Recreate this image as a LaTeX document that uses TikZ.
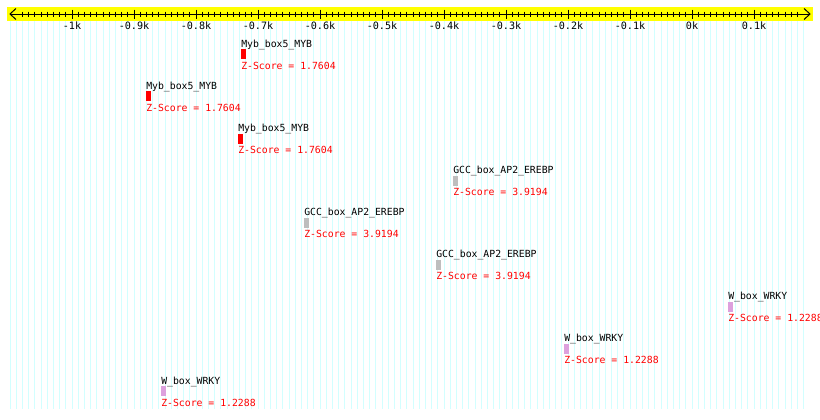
\documentclass[tikz,border=0pt]{standalone}
\usepackage{fontspec}
\setmonofont{DejaVu Sans Mono}
\definecolor{gridc}{RGB}{210,255,255}
\definecolor{boxgray}{RGB}{190,190,190}
\definecolor{boxplum}{RGB}{221,160,221}
\definecolor{rulery}{RGB}{255,255,0}
\newcommand{\motif}[6]{%
  \pgfmathsetmacro\rowy{49+42.125*#3}%
  \node[lbl] (#1l) at (#2,\rowy-2) {#4};%
  \node[mbox, fill=#5] (#1b) at (#2,\rowy) {};%
  \node[zs] (#1z) at (#2,\rowy+20) {Z-Score = #6};%
}
\begin{document}
\begin{tikzpicture}[x=0.75pt,y=-0.75pt,
  lbl/.style={font=\ttfamily\fontsize{7.35}{8}\selectfont, anchor=base west, inner sep=0pt},
  zs/.style={lbl, text=red},
  ticklbl/.style={font=\ttfamily\fontsize{7.6}{8}\selectfont, anchor=base, inner sep=0pt},
  mbox/.style={draw=none, minimum width=3.75pt, minimum height=7.5pt, inner sep=0pt, anchor=north west},
  thin1/.style={line width=0.75pt}]
\useasboundingbox (0,0) rectangle (820,419);
\fill[white] (0,0) rectangle (820,419);
% grid
\foreach \n in {-110,...,18}
  \draw[gridc, thin1] ({692+6.2*\n},21) -- ({692+6.2*\n},409);
% ruler
\fill[rulery] (7,7) rectangle (813,21);
\draw[thin1] (10,14) -- (810,14);
\draw[thin1] (16,8.5) -- (10,14) -- (16,19.5);
\draw[thin1] (804,8.5) -- (810,14) -- (804,19.5);
\foreach \n in {-108,...,17}{
  \pgfmathtruncatemacro\r{mod(abs(\n),10)}
  \ifnum\r=0
    \draw[thin1] ({692+6.2*\n},9.5) -- ({692+6.2*\n},18.5);
  \else
    \draw[thin1] ({692+6.2*\n},11.5) -- ({692+6.2*\n},16.5);
  \fi
}
\foreach \n/\t [count=\i] in {-100/-1k,-90/-0.9k,-80/-0.8k,-70/-0.7k,-60/-0.6k,-50/-0.5k,-40/-0.4k,-30/-0.3k,-20/-0.2k,-10/-0.1k,0/0k,10/0.1k}
  \node[ticklbl] (tick\i) at ({692+6.2*\n},29.5) {\t};
% motifs
\motif{m1}{241}{0}{Myb\_box5\_MYB}{red}{1.7604}
\motif{m2}{146}{1}{Myb\_box5\_MYB}{red}{1.7604}
\motif{m3}{238}{2}{Myb\_box5\_MYB}{red}{1.7604}
\motif{m4}{453}{3}{GCC\_box\_AP2\_EREBP}{boxgray}{3.9194}
\motif{m5}{304}{4}{GCC\_box\_AP2\_EREBP}{boxgray}{3.9194}
\motif{m6}{436}{5}{GCC\_box\_AP2\_EREBP}{boxgray}{3.9194}
\motif{m7}{728}{6}{W\_box\_WRKY}{boxplum}{1.2288}
\motif{m8}{564}{7}{W\_box\_WRKY}{boxplum}{1.2288}
\motif{m9}{161}{8}{W\_box\_WRKY}{boxplum}{1.2288}
\end{tikzpicture}
\end{document}
